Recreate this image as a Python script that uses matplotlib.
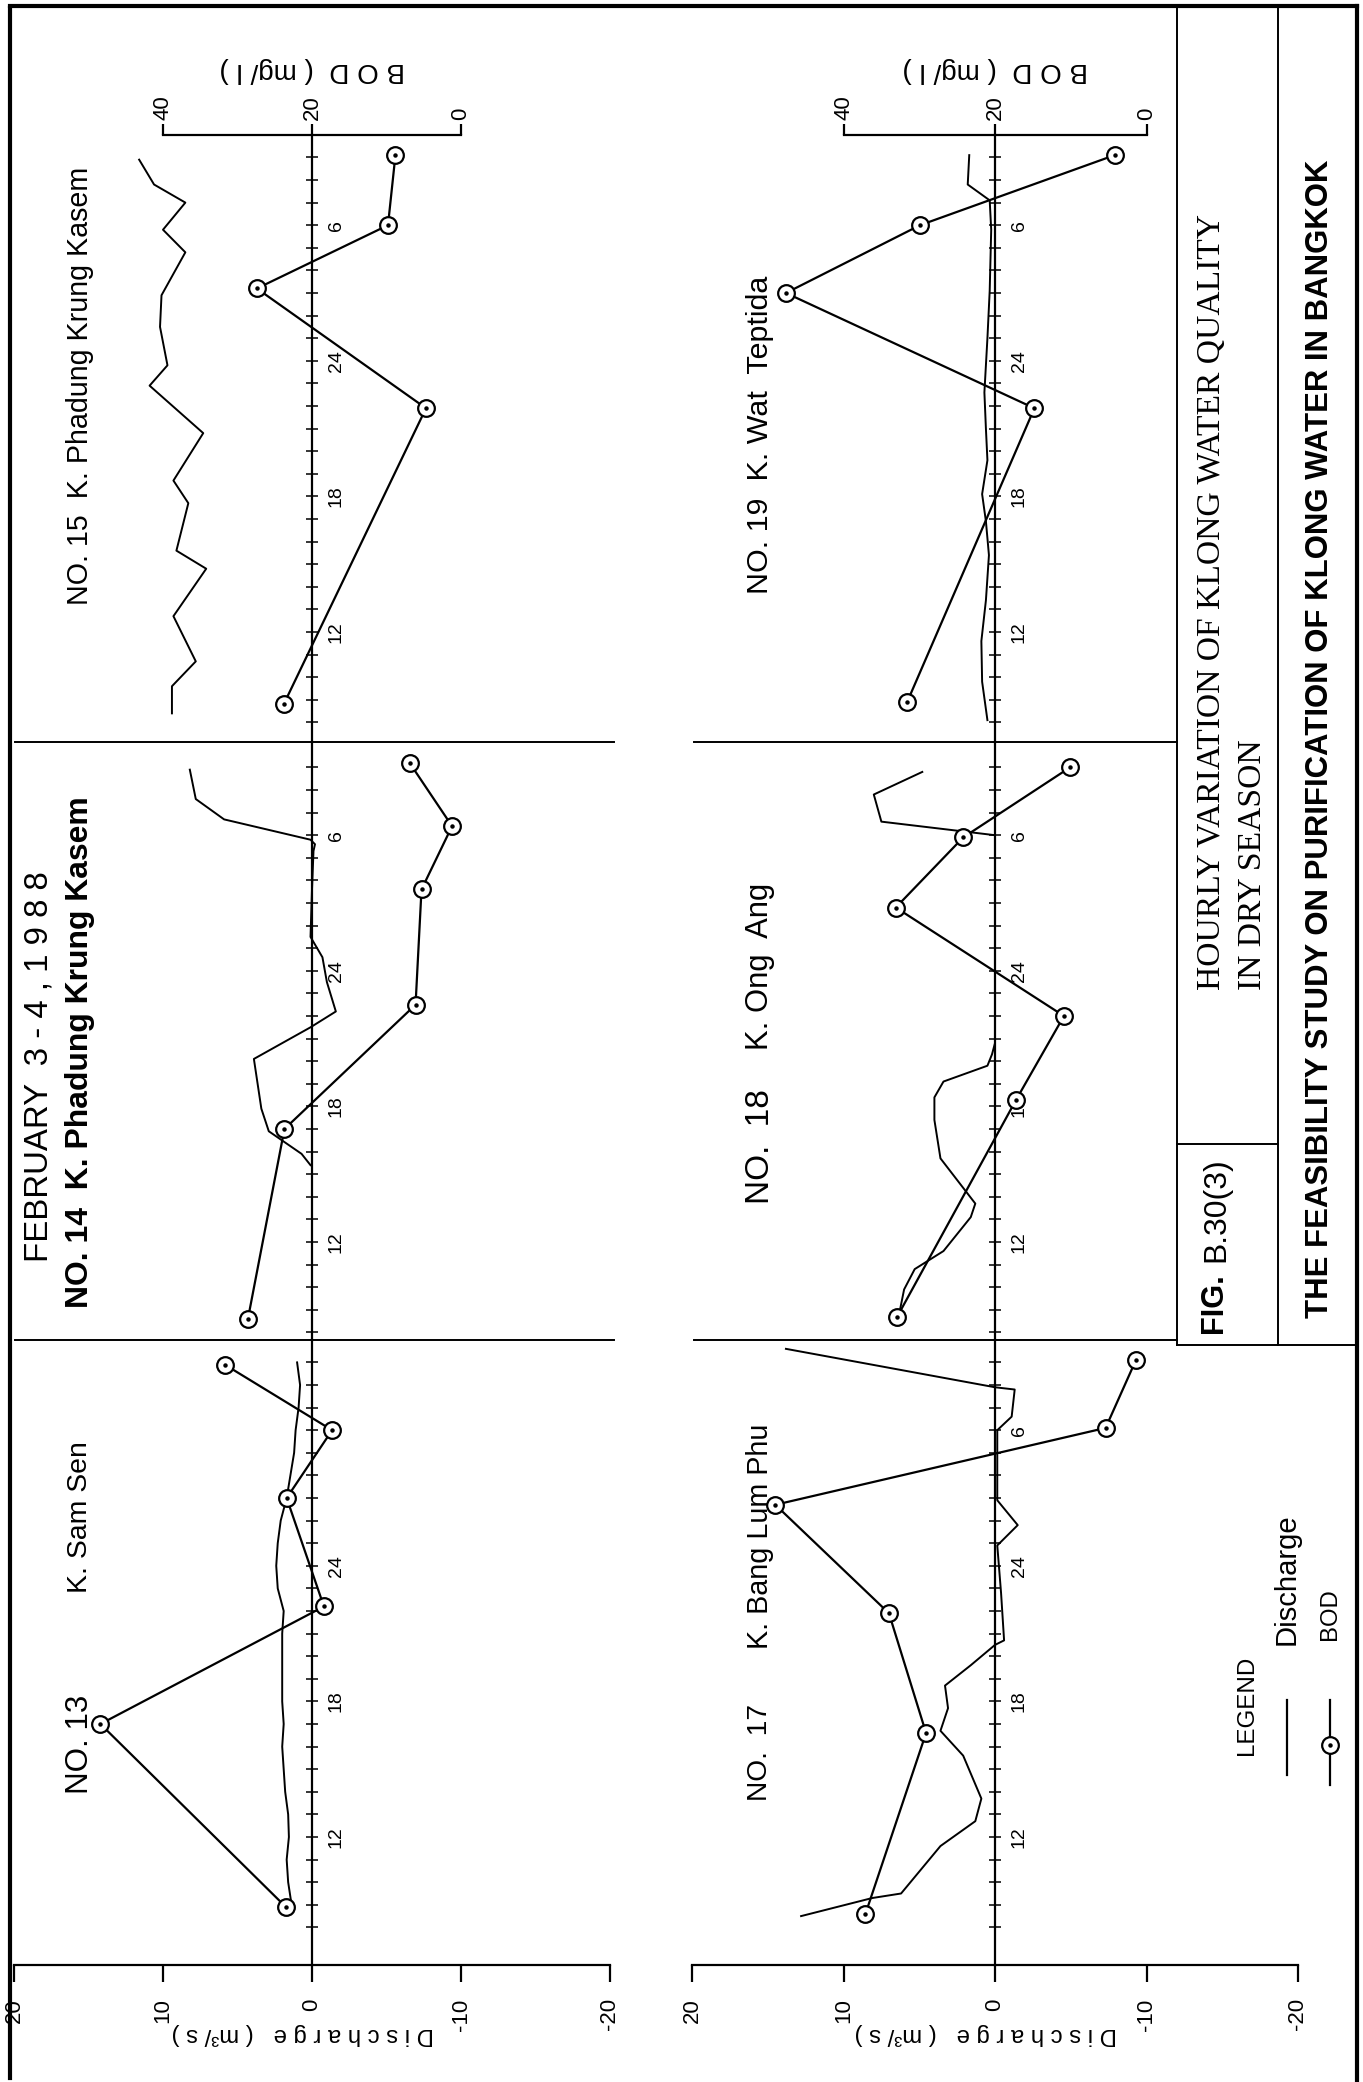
import matplotlib
matplotlib.use("Agg")
import matplotlib.pyplot as plt
from matplotlib import font_manager

W, H, DPI = 1363, 2082, 100

names = {f.name for f in font_manager.fontManager.ttflist}
SANS = "Liberation Sans" if "Liberation Sans" in names else "DejaVu Sans"
NARROW = "Liberation Sans Narrow" if "Liberation Sans Narrow" in names else SANS
SERIF = "Liberation Serif" if "Liberation Serif" in names else "DejaVu Serif"
plt.rcParams["font.family"] = [SANS, "DejaVu Sans"]
plt.rcParams["ytick.alignment"] = "center"

# time = hours from midnight of Feb 3 1988 (30 -> 6 o'clock on Feb 4)
hour_ticks = [12, 18, 24, 30]
hour_labels = ["12", "18", "24", "6"]
q_ticks = [20, 10, 0, -10, -20]
bod_ticks = [40, 20, 0]

# NO.13 K. Sam Sen
t_bod_13 = [8.9, 17.0, 22.2, 27.0, 30.0, 32.9]
bod_13 = [23.5, 48.4, 18.4, 23.4, 17.3, 31.7]
t_q_13 = [8.7, 10, 11, 12, 13, 14, 15, 16, 17, 18, 19, 20, 21, 22, 23, 24,
          25, 26, 27, 28, 29, 30, 31, 32, 33]
q_13 = [1.3, 1.6, 1.7, 1.55, 1.6, 1.8, 1.9, 2.0, 1.9, 2.0, 2.0, 2.0, 2.0, 1.9,
        2.3, 2.4, 2.3, 2.1, 1.7, 1.45, 1.2, 1.1, 0.9, 0.8, 1.0]

# NO.14 K. Phadung Krung Kasem
t_bod_14 = [8.6, 17.0, 22.5, 27.6, 30.4, 33.2]
bod_14 = [28.6, 23.7, 6.1, 5.3, 1.2, 6.9]
t_q_14 = [15.4, 15.9, 16.9, 17.9, 20.1, 21.5, 22.2, 23.5, 24.6, 25.5, 27.6,
          29.3, 29.6, 29.8, 30.7, 31.6, 32.9]
q_14 = [0.1, 0.7, 2.9, 3.4, 3.9, 0.1, -1.6, -1.0, -0.7, 0.1, 0.0, -0.1, -0.2,
        0.1, 5.9, 7.8, 8.2]

# NO.15 K. Phadung Krung Kasem
t_bod_15 = [8.8, 21.9, 27.2, 30.0, 33.1]
bod_15 = [23.8, 4.7, 27.4, 9.8, 8.8]
t_q_15 = [8.4, 9.6, 10.7, 12.7, 14.8, 15.6, 17.7, 18.7, 20.8, 22.9, 23.8,
          25.5, 26.9, 28.8, 29.8, 31.0, 31.8, 32.9]
q_15 = [9.4, 9.4, 7.8, 9.3, 7.1, 9.1, 8.3, 9.3, 7.3, 10.9, 9.7, 10.2, 10.1,
        8.5, 10.0, 8.5, 10.6, 11.6]

# NO.17 K. Bang Lum Phu
t_bod_17 = [8.6, 16.6, 21.9, 26.7, 30.1, 33.1]
bod_17 = [37.1, 29.1, 34.0, 49.0, 5.4, 1.4]
t_q_17 = [8.5, 9.3, 9.5, 11.6, 12.7, 13.7, 15.6, 16.7, 17.7, 18.7, 19.6,
          20.5, 20.7, 22.8, 24.9, 25.8, 26.9, 30.0, 30.6, 31.8, 31.9, 33.6]
q_17 = [12.8, 8.1, 6.2, 3.6, 1.3, 0.9, 2.1, 3.6, 3.1, 3.3, 1.6, 0.0, -0.6,
        -0.4, -0.15, -1.5, -0.15, -0.15, -1.1, -1.3, 0.0, 13.8]

# NO.18 K. Ong Ang
t_bod_18 = [8.7, 18.3, 22.0, 26.8, 29.9, 33.0]
bod_18 = [32.9, 17.2, 10.9, 33.1, 24.2, 10.1]
t_q_18 = [8.9, 9.9, 10.8, 11.6, 13.1, 13.7, 15.7, 17.4, 18.4, 19.1, 19.8,
          20.3, 20.8, 30.0, 30.6, 31.8, 32.8]
q_18 = [6.3, 6.0, 5.3, 3.4, 1.6, 1.3, 3.6, 4.0, 4.0, 3.4, 0.5, 0.2, 0.0, 0.0,
        7.5, 8.0, 4.8]

# NO.19 K. Wat Teptida
t_bod_19 = [8.9, 21.9, 27.0, 30.0, 33.1]
bod_19 = [31.6, 14.8, 47.6, 29.9, 4.2]
t_q_19 = [8.1, 9.8, 11.6, 13.4, 15.4, 16.9, 18.1, 19.6, 21.0, 22.6, 25.0,
          27.1, 29.8, 31.1, 31.8, 33.1]
q_19 = [0.5, 0.85, 0.9, 0.6, 0.4, 0.6, 0.85, 0.5, 0.6, 0.7, 0.5, 0.35, 0.25,
        0.35, 1.8, 1.7]

# page layout in pixels (page is printed sideways)
ROW_X = [(14, 610), (692, 1298)]
# (top edge, bottom edge, pixel row of 12 o'clock) for bottom / middle / top panel
PANEL_Y = [(1340, 1965, 1837), (742, 1340, 1242), (135, 742, 632)]
PX_HOUR = 22.6
Q_LIM = (20, -20)
BOD_LIM = (20 + 2 * Q_LIM[0], 20 + 2 * Q_LIM[1])   # BOD 20 sits on discharge 0

# (row, panel, bod time, bod, discharge time, discharge, labels)
panels = [
    (0, 0, t_bod_13, bod_13, t_q_13, q_13,
     [("NO. 13", 15.6, 13.9, 18.3, "normal"), ("K. Sam Sen", 15.6, 22.8, 29.5, "normal")]),
    (0, 1, t_bod_14, bod_14, t_q_14, q_14,
     [("FEBRUARY  3 - 4 , 1 9 8 8", 18.3, 11.1, 28.4, "normal"),
      ("NO. 14  K. Phadung Krung Kasem", 15.6, 9.1, 31.7, "bold")]),
    (0, 2, t_bod_15, bod_15, t_q_15, q_15,
     [("NO. 15  K. Phadung Krung Kasem", 15.6, 13.2, 32.6, "normal")]),
    (1, 0, t_bod_17, bod_17, t_q_17, q_17,
     [("NO.  17", 15.5, 13.6, 17.9, "normal"), ("K. Bang Lum Phu", 15.5, 20.3, 30.3, "normal")]),
    (1, 1, t_bod_18, bod_18, t_q_18, q_18,
     [("NO.  18", 15.5, 13.7, 18.8, "normal"), ("K. Ong  Ang", 15.5, 20.5, 27.9, "normal")]),
    (1, 2, t_bod_19, bod_19, t_q_19, q_19,
     [("NO. 19  K. Wat  Teptida", 15.5, 13.7, 27.8, "normal")]),
]

fig = plt.figure(figsize=(W / DPI, H / DPI), dpi=DPI)
renderer = fig.canvas.get_renderer()


def fit(txt, length):
    bb = txt.get_window_extent(renderer)
    txt.set_fontsize(txt.get_fontsize() * length / max(bb.width, bb.height))


frame = fig.add_axes([0, 0, 1, 1])
frame.set_xlim(0, W)
frame.set_ylim(H, 0)
frame.axis("off")

for row, k, bt, bv, qt, qv, labels in panels:
    x0, x1 = ROW_X[row]
    y0, y1, y12 = PANEL_Y[k]
    ax = fig.add_axes([x0 / W, 1 - y1 / H, (x1 - x0) / W, (y1 - y0) / H])
    ax.patch.set_alpha(0)
    ax.set_xlim(*Q_LIM)
    ax.set_ylim(12 - (y1 - y12) / PX_HOUR, 12 + (y12 - y0) / PX_HOUR)
    for s in ("left", "top", "bottom"):
        ax.spines[s].set_visible(False)
    ax.spines["right"].set_position(("data", 0))
    ax.spines["right"].set_linewidth(1.6)
    ax.yaxis.tick_right()
    ax.set_yticks(hour_ticks, hour_labels)
    ax.set_yticks(range(8, 34), minor=True)
    ax.tick_params(axis="y", which="both", direction="inout", length=9,
                   width=1.1, labelrotation=90, labelsize=14, pad=7)

    if k == 0:
        ax.spines["bottom"].set_visible(True)
        ax.spines["bottom"].set_linewidth(1.6)
        ax.set_xticks(q_ticks, [str(v) for v in q_ticks])
        ax.tick_params(axis="x", direction="out", length=12, width=1.6,
                       labelrotation=90, labelsize=16, pad=12)
        lab = ax.set_xlabel("D i s c h a r g e   ( m³/ s )", rotation=180, fontsize=13)
        fit(lab, 262)
        ax.xaxis.set_label_coords(0.484, -58 / (y1 - y0))
    else:
        ax.set_xticks([])

    ax.plot(qv, qt, color="black", lw=1.4, zorder=3)

    axb = ax.twiny()
    axb.set_xlim(*BOD_LIM)
    for s in axb.spines.values():
        s.set_visible(False)
    if k == 2:
        axb.spines["top"].set_visible(True)
        axb.spines["top"].set_bounds(0, 40)
        axb.spines["top"].set_linewidth(1.6)
        axb.set_xticks(bod_ticks, [str(v) for v in bod_ticks])
        axb.tick_params(axis="x", direction="out", length=8, width=1.6,
                        labelrotation=90, labelsize=16, pad=3)
        lab = axb.set_xlabel("B O D  ( mg/ l )", rotation=180, fontsize=15)
        fit(lab, 185)
        axb.xaxis.set_label_coords(0.5, 1 + 58 / (y1 - y0))
    else:
        axb.set_xticks([])
    axb.plot(bv, bt, color="black", lw=1.6, marker="o", ms=12, mfc="white",
             mec="black", mew=1.6, zorder=4)
    axb.plot(bv, bt, ls="none", marker="o", ms=2.2, color="black", zorder=5)

    for text, xq, ta, tb, weight in labels:
        t = ax.text(xq, ta, text, rotation=90, ha="center", va="bottom",
                    fontsize=16, fontweight=weight)
        fit(t, (tb - ta) * PX_HOUR)

# outer border
lw_b = 3.0
frame.plot([10, 10], [8, 2078], color="black", lw=lw_b)
frame.plot([10, 1357], [6, 6], color="black", lw=lw_b)
frame.plot([1357, 1357], [6, 2082], color="black", lw=lw_b)

# panel dividers
for y in (PANEL_Y[1][0], PANEL_Y[0][0]):
    frame.plot([15, 614], [y, y], color="black", lw=1.4)
    frame.plot([694, 1177], [y, y], color="black", lw=1.4)

# title block
frame.plot([1177, 1177], [6, 1345], color="black", lw=1.4)
frame.plot([1278, 1278], [6, 1345], color="black", lw=1.4)
frame.plot([1177, 1278], [1144, 1144], color="black", lw=1.4)
frame.plot([1177, 1357], [1345, 1345], color="black", lw=1.4)

t = frame.text(1212, 990, "HOURLY VARIATION OF KLONG WATER QUALITY", rotation=90,
               ha="center", va="bottom", family=SERIF, fontsize=18)
fit(t, 777)
t2 = frame.text(1253, 990, "IN DRY SEASON", rotation=90, ha="center", va="bottom",
                family=SERIF, fontsize=t.get_fontsize())
t = frame.text(1214, 1333, "FIG.", rotation=90, ha="center", va="bottom",
               family=NARROW, fontweight="bold", fontsize=20)
fit(t, 60)
t = frame.text(1216, 1262, "B.30(3)", rotation=90, ha="center", va="bottom",
               fontsize=18)
fit(t, 105)
t = frame.text(1320, 1318, "THE FEASIBILITY STUDY ON PURIFICATION OF KLONG WATER IN BANGKOK",
               rotation=90, ha="center", va="bottom", family=NARROW,
               fontweight="bold", fontsize=24)
fit(t, 1158)

# legend
t = frame.text(1247, 1755, "LEGEND", rotation=90, ha="center", va="bottom", fontsize=15)
fit(t, 100)
frame.plot([1287, 1287], [1700, 1775], color="black", lw=1.6)
t = frame.text(1287, 1645, "Discharge", rotation=90, ha="center", va="bottom", fontsize=15)
fit(t, 132)
frame.plot([1330, 1330], [1700, 1785], color="black", lw=1.6)
frame.plot([1330], [1745], marker="o", ms=12, mfc="white", mec="black", mew=1.6)
frame.plot([1330], [1745], marker="o", ms=2.2, color="black")
t = frame.text(1330, 1640, "BOD", rotation=90, ha="center", va="bottom", fontsize=15)
fit(t, 52)

fig.savefig("out.png", dpi=DPI)
